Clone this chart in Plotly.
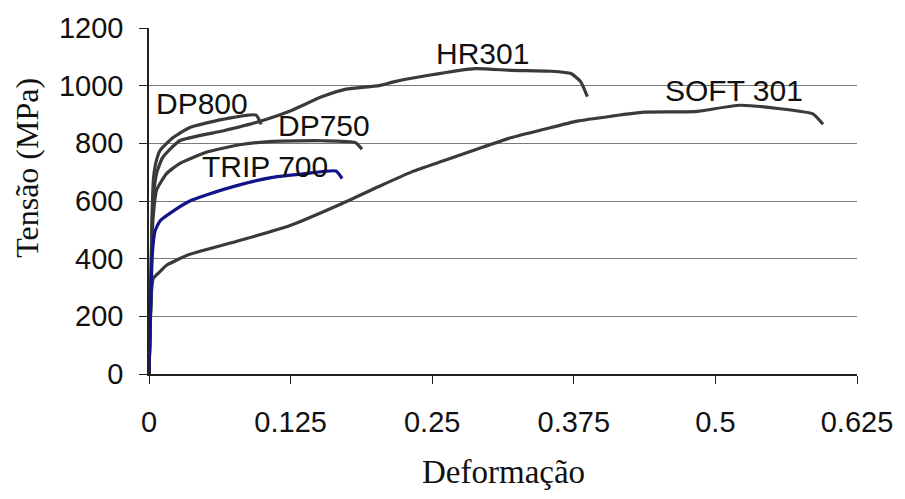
import plotly.graph_objects as go

# Data (Deformação, Tensão MPa)
soft_x = [0, 0.001, 0.0023, 0.0038, 0.0097, 0.0155, 0.036, 0.08, 0.124, 0.168, 0.2028, 0.232, 0.2613,
          0.2906, 0.32, 0.349, 0.378, 0.408, 0.437, 0.466, 0.484, 0.5217, 0.557, 0.586, 0.595]
soft_y = [0, 150, 290, 332, 355, 377, 415, 463, 514, 587, 650, 701, 741,
          781, 820, 849, 877, 894, 908, 909, 911, 932, 920, 902, 866]

hr_x = [0, 0.0015, 0.0025, 0.004, 0.007, 0.012, 0.027, 0.065, 0.0945, 0.124, 0.153, 0.174, 0.203,
        0.217, 0.247, 0.288, 0.32, 0.355, 0.3725, 0.381, 0.387]
hr_y = [0, 250, 480, 620, 700, 750, 809, 843, 872, 911, 962, 988, 1000,
        1014, 1036, 1059, 1053, 1050, 1042, 1014, 962]

dp800_x = [0, 0.0015, 0.0025, 0.004, 0.0065, 0.0097, 0.0213, 0.036, 0.065, 0.0945, 0.099]
dp800_y = [0, 250, 520, 680, 740, 775, 820, 855, 883, 898, 866]

dp750_x = [0, 0.0015, 0.0025, 0.0040, 0.0067, 0.0155, 0.027, 0.0506, 0.08, 0.109, 0.153, 0.182, 0.188]
dp750_y = [0, 250, 450, 560, 638, 695, 730, 769, 795, 807, 809, 803, 780]

trip_x = [0, 0.0015, 0.003, 0.0053, 0.0097, 0.0213, 0.036, 0.0506, 0.08, 0.109, 0.138, 0.165, 0.1705]
trip_y = [0, 250, 420, 495, 531, 565, 600, 621, 656, 682, 695, 704, 678]

labels = ["DP800", "DP750", "TRIP 700", "HR301", "SOFT 301"]
label_x = [0.0465, 0.1545, 0.102, 0.294, 0.516]
label_y = [938, 863, 719, 1111, 982]

x_ticks = [0, 0.125, 0.25, 0.375, 0.5, 0.625]
x_tick_text = ["0", "0.125", "0.25", "0.375", "0.5", "0.625"]
y_ticks = [0, 200, 400, 600, 800, 1000, 1200]

GRAY = "#3a3a3a"
BLUE = "#14148a"

fig = go.Figure()
for xs, ys, col in [(soft_x, soft_y, GRAY), (hr_x, hr_y, GRAY), (dp800_x, dp800_y, GRAY),
                    (dp750_x, dp750_y, GRAY), (trip_x, trip_y, BLUE)]:
    fig.add_trace(go.Scatter(x=xs, y=ys, mode="lines",
                             line=dict(color=col, width=3.2, shape="spline", smoothing=0.5),
                             showlegend=False, hoverinfo="skip"))

for t, lx, ly in zip(labels, label_x, label_y):
    fig.add_annotation(x=lx, y=ly, text=t, showarrow=False, xref="x", yref="y",
                       font=dict(family="Liberation Sans, Arial", size=30, color="#111111"))

fig.add_annotation(x=-0.2, y=0.597, xref="paper", yref="paper", text="Tensão (MPa)",
                   textangle=-90, showarrow=False,
                   font=dict(family="Liberation Serif, Times New Roman", size=32, color="#111111"))
fig.add_annotation(x=0.5, y=-0.284, xref="paper", yref="paper", text="Deformação",
                   showarrow=False, yanchor="middle",
                   font=dict(family="Liberation Serif, Times New Roman", size=33, color="#111111"))

fig.update_layout(
    width=905, height=499,
    margin=dict(l=149, r=44, t=22, b=125),
    paper_bgcolor="white", plot_bgcolor="white",
    xaxis=dict(range=[0, 0.625], tickvals=x_ticks, ticktext=x_tick_text,
               showgrid=False, zeroline=False, showline=True, linecolor="#222222", linewidth=1.5,
               ticks="outside", ticklen=8, tickcolor="#222222", ticklabelstandoff=13,
               tickfont=dict(family="Liberation Sans, Arial", size=29, color="#111111")),
    yaxis=dict(range=[0, 1200], tickvals=y_ticks,
               showgrid=True, gridcolor="#7a7a7a", gridwidth=1.2, zeroline=False,
               showline=True, linecolor="#222222", linewidth=1.5,
               ticks="outside", ticklen=8, tickcolor="#222222", ticklabelstandoff=10,
               tickfont=dict(family="Liberation Sans, Arial", size=29, color="#111111")),
)

fig.write_html("out.html")
